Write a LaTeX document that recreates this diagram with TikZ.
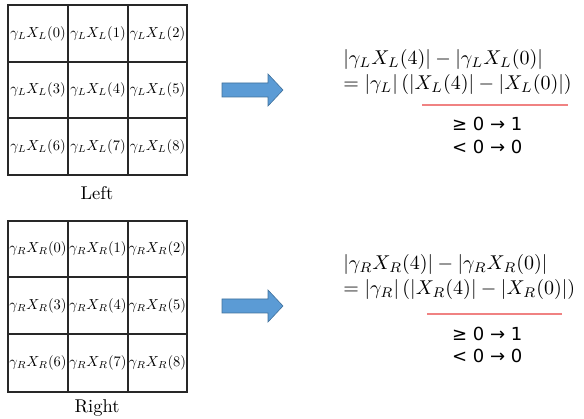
\documentclass[tikz,border=0pt]{standalone}
\usepackage{fontspec}
\newfontfamily\symf{DejaVu Sans}
\definecolor{arrfill}{RGB}{91,155,213}
\definecolor{arrdraw}{RGB}{65,113,156}
\definecolor{uline}{RGB}{240,130,130}
\definecolor{gridc}{RGB}{40,40,40}
\begin{document}
\begin{tikzpicture}[x=1pt,y=-1pt,
  celltxt/.style={inner sep=0pt, scale=1.45},
  gridline/.style={draw=gridc, line width=1.1pt},
  caption/.style={inner sep=0pt, scale=1.85},
  eqline/.style={inner sep=0pt, anchor=base west, scale=2.0},
  rule/.style={inner sep=0pt, anchor=base west, font=\symf\fontsize{18}{22}\selectfont},
  blockarrow/.style={fill=arrfill, draw=arrdraw, line width=0.6pt},
  redline/.style={draw=uline, line width=1.5pt}]
\useasboundingbox (0,0) rectangle (584,419);
% ---- Left grid
\draw[gridline] (8,5) rectangle (187,175);
\draw[gridline] (68,5) -- (68,175) (128,5) -- (128,175) (8,62) -- (187,62) (8,118) -- (187,118);
\foreach \i/\x/\y in {0/38/33.5,1/98/33.5,2/157.5/33.5,3/38/90,4/98/90,5/157.5/90,6/38/146.5,7/98/146.5,8/157.5/146.5}
  \node[celltxt] (L\i) at (\x,\y) {$\gamma_L X_L(\i)$};
\node[caption] (leftcap) at (97,193) {Left};
% ---- Right grid
\draw[gridline] (8,221) rectangle (187,392);
\draw[gridline] (68,221) -- (68,392) (128,221) -- (128,392) (8,277) -- (187,277) (8,334) -- (187,334);
\foreach \i/\x/\y in {0/38/249,1/98/249,2/157.5/249,3/38/305.5,4/98/305.5,5/157.5/305.5,6/38/363,7/98/363,8/157.5/363}
  \node[celltxt] (R\i) at (\x,\y) {$\gamma_R X_R(\i)$};
\node[caption] (rightcap) at (97,408) {Right};
% ---- Arrows
\draw[blockarrow] (222,83) -- (268,83) -- (268,74) -- (283,90) -- (268,106) -- (268,97) -- (222,97) -- cycle;
\draw[blockarrow] (222,299) -- (268,299) -- (268,290) -- (283,306) -- (268,322) -- (268,313) -- (222,313) -- cycle;
% ---- Left equations
\node[eqline] (le1) at (343,65) {$|\gamma_L X_L(4)| - |\gamma_L X_L(0)|$};
\node[eqline] (le2) at (343,90) {${=}\;|\gamma_L|\,(|X_L(4)| - |X_L(0)|)$};
\coordinate (lu1) at (422,105);
\coordinate (lu2) at (568,105);
\draw[redline] (lu1) -- (lu2);
\node[rule] (lr1) at (452,131) {≥ 0 → 1};
\node[rule] (lr2) at (452,154) {< 0 → 0};
% ---- Right equations
\node[eqline] (re1) at (343,270) {$|\gamma_R X_R(4)| - |\gamma_R X_R(0)|$};
\node[eqline] (re2) at (343,295) {${=}\;|\gamma_R|\,(|X_R(4)| - |X_R(0)|)$};
\coordinate (ru1) at (427,314);
\coordinate (ru2) at (562,314);
\draw[redline] (ru1) -- (ru2);
\node[rule] (rr1) at (452,341) {≥ 0 → 1};
\node[rule] (rr2) at (452,363) {< 0 → 0};
\end{tikzpicture}
\end{document}
